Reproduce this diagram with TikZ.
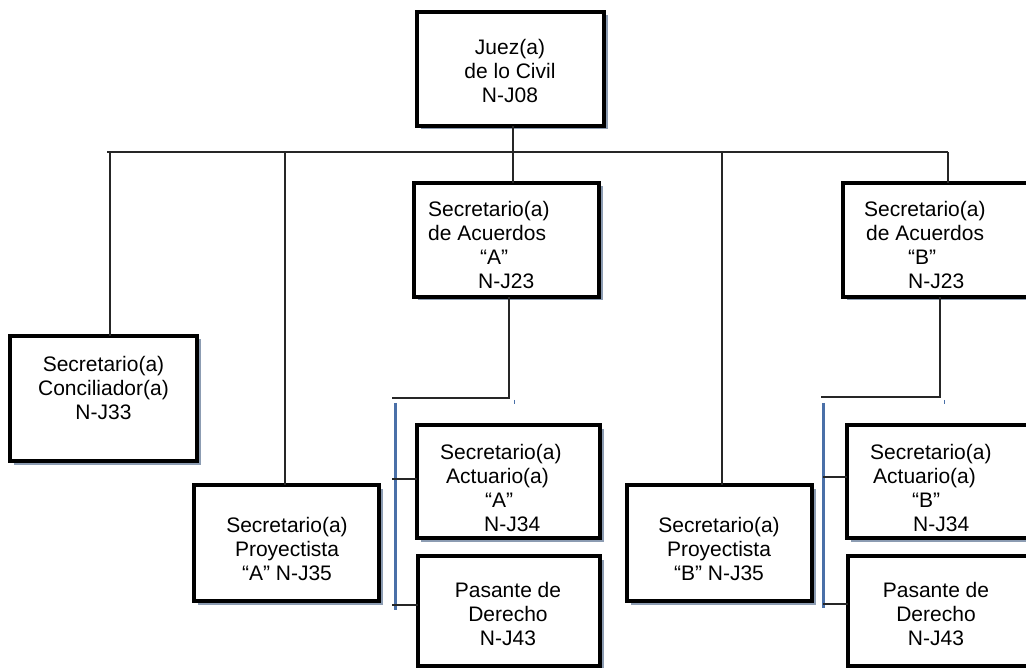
\documentclass[tikz,border=0pt]{standalone}
\usepackage{fontspec}
\setmainfont{Liberation Sans}
\usetikzlibrary{shadows}
\definecolor{shadowc}{RGB}{140,156,178}
\definecolor{barblue}{RGB}{74,112,168}
\tikzset{
  orgbox/.style={draw=black, line width=4.5pt, fill=white, inner sep=0pt, outer sep=0pt, anchor=north west,
    drop shadow={shadow xshift=3.5pt, shadow yshift=-3.5pt, fill=shadowc, opacity=1}},
  txt/.style={inner sep=0pt, font=\fontsize{21}{24}\selectfont, align=center},
  ltxt/.style={inner sep=0pt, font=\fontsize{21}{24}\selectfont, align=left, anchor=west},
  conn/.style={draw=black!85, line width=1.3pt},
  bluebar/.style={draw=barblue, line width=3pt},
  bluetick/.style={draw=barblue, line width=1pt}
}
\begin{document}
\begin{tikzpicture}[x=1pt,y=-1pt]
\useasboundingbox (0,0) rectangle (1026,668);
\fill[white] (0,0) rectangle (1026,668);
\clip (0,0) rectangle (1026,668);

% boxes
\node[orgbox, minimum width=187pt, minimum height=114pt] (juez) at (417,12) {};
\node[orgbox, minimum width=185pt, minimum height=114pt] (secA) at (414,183) {};
\node[orgbox, minimum width=185pt, minimum height=114pt] (secB) at (843,183) {};
\node[orgbox, minimum width=187pt, minimum height=125pt] (concil) at (10,336) {};
\node[orgbox, minimum width=185pt, minimum height=116pt] (proyA) at (194,485) {};
\node[orgbox, minimum width=185pt, minimum height=116pt] (proyB) at (627,485) {};
\node[orgbox, minimum width=183pt, minimum height=113pt] (actA) at (417,425) {};
\node[orgbox, minimum width=182pt, minimum height=110pt] (pasA) at (418,556) {};
\node[orgbox, minimum width=185pt, minimum height=113pt] (actB) at (847,425) {};
\node[orgbox, minimum width=185pt, minimum height=110pt] (pasB) at (848,556) {};

% texts
\node[txt] (tjuez) at (510,71) {Juez(a)\\de lo Civil\\N-J08};
\node[ltxt] (tsecA) at (428,245) {Secretario(a)\\de Acuerdos\\\hspace*{52pt}“A”\\\hspace*{50pt}N-J23};
\node[ltxt] (tsecB) at (864,245) {Secretario(a)\\\hspace*{2pt}de Acuerdos\\\hspace*{44pt}“B”\\\hspace*{44pt}N-J23};
\node[txt] (tconcil) at (103.5,388) {Secretario(a)\\Conciliador(a)\\N-J33};
\node[txt] (tproyA) at (287,549) {Secretario(a)\\Proyectista\\“A” N-J35};
\node[txt] (tproyB) at (719,549) {Secretario(a)\\Proyectista\\“B” N-J35};
\node[ltxt] (tactA) at (440,487.5) {Secretario(a)\\\hspace*{6pt}Actuario(a)\\\hspace*{45pt}“A”\\\hspace*{44pt}N-J34};
\node[ltxt] (tactB) at (870,487.5) {Secretario(a)\\\hspace*{3pt}Actuario(a)\\\hspace*{42pt}“B”\\\hspace*{43pt}N-J34};
\node[txt] (tpasA) at (508,614) {Pasante de\\Derecho\\N-J43};
\node[txt] (tpasB) at (936,614) {Pasante de\\Derecho\\N-J43};

% main bus
\coordinate (hL) at (107,152);
\coordinate (hR) at (948,152);
\coordinate (d1) at (110,152);
\coordinate (d2) at (285,152);
\coordinate (d3) at (513,152);
\coordinate (d4) at (722,152);
\coordinate (d5) at (948,152);
\draw[conn] (hL) -- (hR);
\draw[conn] (d3 |- juez.south) -- (d3 |- secA.north);
\draw[conn] (d1) -- (d1 |- concil.north);
\draw[conn] (d2) -- (d2 |- proyA.north);
\draw[conn] (d4) -- (d4 |- proyB.north);
\draw[conn] (d5) -- (d5 |- secB.north);

% branch A
\coordinate (a1) at (509,398);
\coordinate (a2) at (392,398);
\draw[conn] (a1 |- secA.south) -- (a1) -- (a2);
\coordinate (ak1) at (514,400);
\coordinate (ak2) at (514,404);
\draw[bluetick] (ak1) -- (ak2);
\coordinate (ba1) at (395,403);
\coordinate (ba2) at (395,610);
\draw[bluebar] (ba1) -- (ba2);
\coordinate (ta1) at (392,479);
\coordinate (ta2) at (392,605);
\draw[conn] (ta1) -- (ta1 -| actA.west);
\draw[conn] (ta2) -- (ta2 -| pasA.west);

% branch B
\coordinate (b1) at (940,397);
\coordinate (b2) at (821,397);
\draw[conn] (b1 |- secB.south) -- (b1) -- (b2);
\coordinate (bk1) at (944,400);
\coordinate (bk2) at (944,404);
\draw[bluetick] (bk1) -- (bk2);
\coordinate (bb1) at (823,403);
\coordinate (bb2) at (823,608);
\draw[bluebar] (bb1) -- (bb2);
\coordinate (tb1) at (823,477);
\coordinate (tb2) at (823,604);
\draw[conn] (tb1) -- (tb1 -| actB.west);
\draw[conn] (tb2) -- (tb2 -| pasB.west);
\end{tikzpicture}
\end{document}
